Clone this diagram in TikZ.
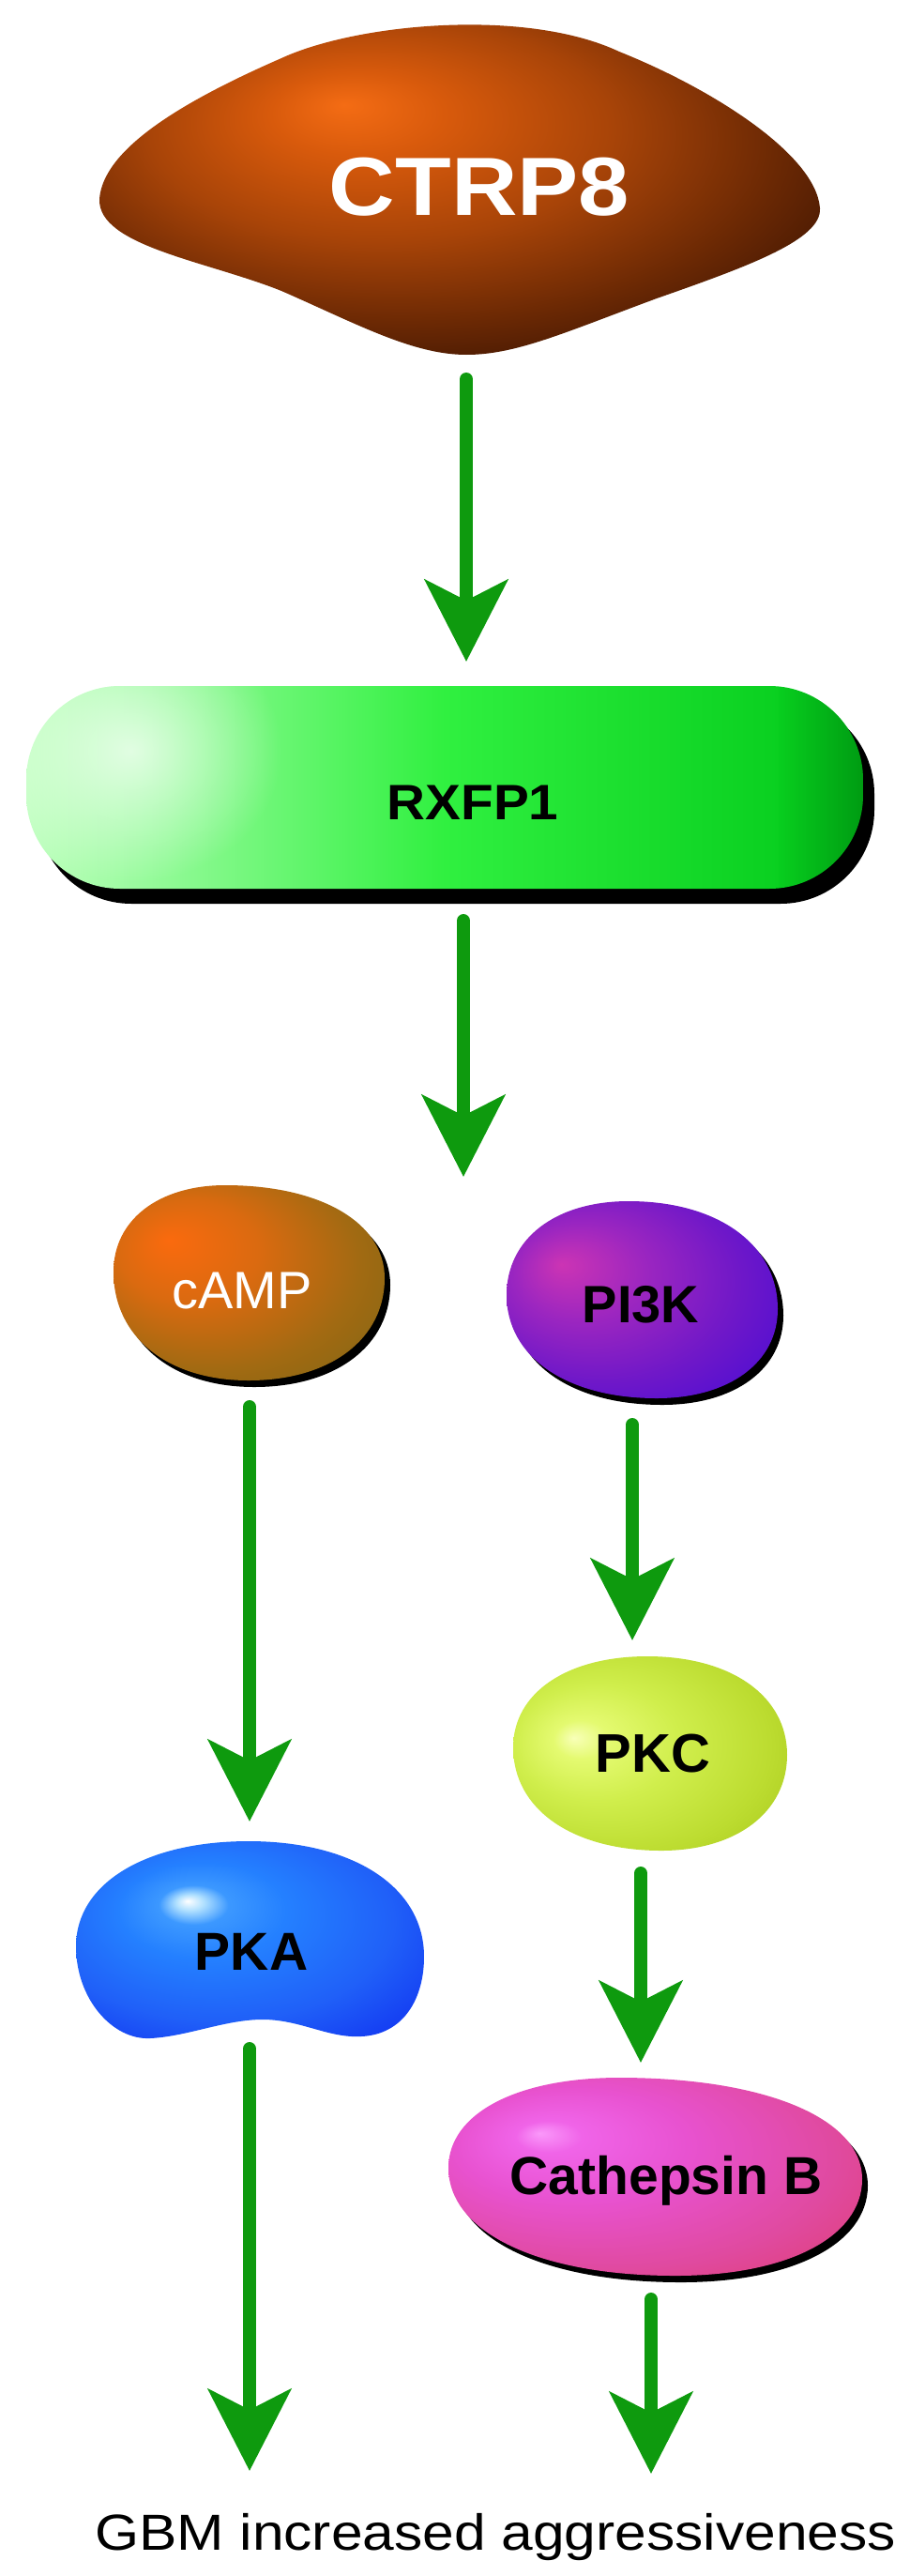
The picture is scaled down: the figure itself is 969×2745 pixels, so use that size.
\documentclass[tikz,border=0pt]{standalone}
\usepackage{fontspec}
\setmainfont{Liberation Sans}
\usetikzlibrary{arrows.meta,fadings}

\tikzfading[name=glowfade, inner color=transparent!0, outer color=transparent!100]

\definecolor{arrg}{RGB}{14,154,14}
% CTRP8
\definecolor{ct0}{HTML}{F46C14}
\definecolor{ct1}{HTML}{D85A0C}
\definecolor{ct2}{HTML}{A84408}
\definecolor{ct3}{HTML}{6A2804}
\definecolor{ct4}{HTML}{2E0E02}
\definecolor{ct5}{HTML}{1A0600}
% cAMP
\definecolor{ca0}{HTML}{FA6A0E}
\definecolor{ca1}{HTML}{DA6A10}
\definecolor{ca2}{HTML}{A26A12}
\definecolor{ca3}{HTML}{806614}
\definecolor{ca4}{HTML}{6A5A10}
% PI3K
\definecolor{pi0}{HTML}{CC34B4}
\definecolor{pi1}{HTML}{9C26C0}
\definecolor{pi2}{HTML}{7018C8}
\definecolor{pi3}{HTML}{4A0CD4}
\definecolor{pi4}{HTML}{3A08D8}
% PKC
\definecolor{pc0}{HTML}{F8FFB8}
\definecolor{pc1}{HTML}{E4FA70}
\definecolor{pc2}{HTML}{D0EE4C}
\definecolor{pc3}{HTML}{BCDC30}
\definecolor{pc4}{HTML}{A4C418}
\definecolor{pc5}{HTML}{90B010}
% PKA
\definecolor{pa0}{HTML}{FFFFFF}
\definecolor{pa1}{HTML}{B0E0FF}
\definecolor{pa2}{HTML}{3C98FF}
\definecolor{pa3}{HTML}{2480FF}
\definecolor{pa4}{HTML}{2060F8}
\definecolor{pa5}{HTML}{1030F0}
\definecolor{pa6}{HTML}{0000E0}
% Cathepsin B
\definecolor{cb0}{HTML}{FA98FA}
\definecolor{cb1}{HTML}{F064E8}
\definecolor{cb2}{HTML}{E852D0}
\definecolor{cb3}{HTML}{E04AA0}
\definecolor{cb4}{HTML}{E03C70}
\definecolor{cb5}{HTML}{D83058}
% RXFP1
\definecolor{rx0}{HTML}{C0FFC0}
\definecolor{rx1}{HTML}{30F040}
\definecolor{rx2}{HTML}{00C818}

\pgfdeclareradialshading{shctrp}{\pgfpoint{-8bp}{11bp}}{color(0bp)=(ct0); color(6bp)=(ct1); color(16bp)=(ct2); color(26bp)=(ct3); color(36bp)=(ct4); color(50bp)=(ct5)}
\pgfdeclareradialshading{shcamp}{\pgfpoint{-15bp}{11bp}}{color(0bp)=(ca0); color(13bp)=(ca1); color(27bp)=(ca2); color(39bp)=(ca3); color(50bp)=(ca4)}
\pgfdeclareradialshading{shpi}{\pgfpoint{-15bp}{9bp}}{color(0bp)=(pi0); color(12bp)=(pi1); color(25bp)=(pi2); color(38bp)=(pi3); color(50bp)=(pi4)}
\pgfdeclareradialshading{shpkc}{\pgfpoint{-14bp}{4bp}}{color(0bp)=(pc0); color(5bp)=(pc1); color(15bp)=(pc2); color(28bp)=(pc3); color(40bp)=(pc4); color(50bp)=(pc5)}
\pgfdeclareradialshading{shpka}{\pgfpoint{-9bp}{10bp}}{color(0bp)=(pa0); color(2bp)=(pa1); color(5bp)=(pa2); color(12bp)=(pa3); color(25bp)=(pa4); color(38bp)=(pa5); color(50bp)=(pa6)}
\pgfdeclareradialshading{shcb}{\pgfpoint{-14bp}{11bp}}{color(0bp)=(cb0); color(4bp)=(cb1); color(14bp)=(cb2); color(28bp)=(cb3); color(40bp)=(cb4); color(50bp)=(cb5)}

\tikzset{
  arr/.style={draw=arrg, line width=14pt, line cap=round, -{Stealth[length=87pt, width=88pt, inset=22pt]}},
  lbl/.style={anchor=base, inner sep=0pt, font=\bfseries\fontsize{57}{60}\selectfont},
  shadowshift/.style={shift={(6,7)}},
}

\begin{document}
\begin{tikzpicture}[x=1pt, y=-1pt]
\useasboundingbox (0,0) rectangle (969,2745);

% ---- CTRP8 ----
\shade[shading=shctrp] (106,212) .. controls (110,160) and (190,110) .. (300,62)
  .. controls (380,25) and (560,8) .. (660,55)
  .. controls (760,95) and (870,165) .. (874,222)
  .. controls (876,255) and (800,283) .. (700,318)
  .. controls (600,355) and (550,378) .. (497,378)
  .. controls (440,378) and (380,345) .. (300,310)
  .. controls (220,278) and (104,262) .. (106,212) -- cycle;
\node[lbl, text=white, font=\bfseries\fontsize{88}{92}\selectfont] (ctrp8) at (511,230) {\scalebox{1.11}[1]{CTRP8}};

% ---- RXFP1 ----
\fill[black, rounded corners=100pt] (40,746) rectangle (932,963);
\begin{scope}
  \clip[rounded corners=100pt] (28,731) rectangle (920,947);
  \shade[left color=rx0, right color=rx2, middle color=rx1] (28,731) rectangle (920,947);
  \fill[white, path fading=glowfade, opacity=0.7] (140,800) ellipse (160pt and 140pt);
  \shade[left color=rx2, right color=black, opacity=0.22] (830,731) rectangle (920,947);
\end{scope}
\node[lbl, font=\bfseries\fontsize{53}{56}\selectfont] (rxfp1) at (504,873) {\scalebox{1.07}[1]{RXFP1}};

% ---- cAMP ----
\begin{scope}[shadowshift]
\fill[black] (410,1362) .. controls (410,1303) and (342,1263) .. (240,1263)
  .. controls (169,1263) and (121,1300) .. (121,1355)
  .. controls (121,1425) and (179,1471) .. (265,1471)
  .. controls (352,1471) and (410,1427) .. (410,1362) -- cycle;
\end{scope}
\shade[shading=shcamp] (410,1362) .. controls (410,1303) and (342,1263) .. (240,1263)
  .. controls (169,1263) and (121,1300) .. (121,1355)
  .. controls (121,1425) and (179,1471) .. (265,1471)
  .. controls (352,1471) and (410,1427) .. (410,1362) -- cycle;
\node[lbl, text=white, font=\fontsize{56}{60}\selectfont] (camp) at (258,1394) {cAMP};

% ---- PI3K ----
\begin{scope}[shadowshift]
\fill[black] (829,1395) .. controls (829,1326) and (765,1280) .. (670,1280)
  .. controls (592,1280) and (540,1320) .. (540,1380)
  .. controls (540,1446) and (604,1490) .. (700,1490)
  .. controls (777,1490) and (829,1452) .. (829,1395) -- cycle;
\end{scope}
\shade[shading=shpi] (829,1395) .. controls (829,1326) and (765,1280) .. (670,1280)
  .. controls (592,1280) and (540,1320) .. (540,1380)
  .. controls (540,1446) and (604,1490) .. (700,1490)
  .. controls (777,1490) and (829,1452) .. (829,1395) -- cycle;
\node[lbl, font=\bfseries\fontsize{56}{60}\selectfont] (pi3k) at (683,1409) {PI3K};

% ---- PKC ----
\shade[shading=shpkc] (839,1870) .. controls (839,1807) and (779,1765) .. (690,1765)
  .. controls (604,1765) and (547,1804) .. (547,1862)
  .. controls (547,1928) and (610,1972) .. (705,1972)
  .. controls (785,1972) and (839,1931) .. (839,1870) -- cycle;
\node[lbl, font=\bfseries\fontsize{58}{60}\selectfont] (pkc) at (696,1888) {PKC};

% ---- PKA ----
\shade[shading=shpka] (452,2085) .. controls (452,2011) and (377,1962) .. (265,1962)
  .. controls (155,1962) and (81,2007) .. (81,2074)
  .. controls (81,2130) and (120,2174) .. (160,2172)
  .. controls (200,2170) and (240,2152) .. (280,2152)
  .. controls (320,2152) and (350,2172) .. (385,2170)
  .. controls (430,2168) and (452,2130) .. (452,2085) -- cycle;
\node[lbl] (pka) at (268,2099) {PKA};

% ---- Cathepsin B ----
\begin{scope}[shadowshift]
\fill[black] (919,2322) .. controls (919,2257) and (815,2214) .. (660,2214)
  .. controls (551,2214) and (478,2252) .. (478,2310)
  .. controls (478,2379) and (575,2425) .. (720,2425)
  .. controls (839,2425) and (919,2384) .. (919,2322) -- cycle;
\end{scope}
\shade[shading=shcb] (919,2322) .. controls (919,2257) and (815,2214) .. (660,2214)
  .. controls (551,2214) and (478,2252) .. (478,2310)
  .. controls (478,2379) and (575,2425) .. (720,2425)
  .. controls (839,2425) and (919,2384) .. (919,2322) -- cycle;
\node[lbl] (cathb) at (710,2338) {Cathepsin B};

% ---- outcome ----
\node[anchor=base, inner sep=0pt, font=\fontsize{54}{58}\selectfont] (gbm) at (528,2717) {\scalebox{1.12}[1]{GBM increased aggressiveness}};

% ---- arrow end points ----
\coordinate (a1s) at (497,404);  \coordinate (a1e) at (497,705);
\coordinate (a2s) at (494,981);  \coordinate (a2e) at (494,1254);
\coordinate (a3s) at (266,1499); \coordinate (a3e) at (266,1941);
\coordinate (a4s) at (674,1518); \coordinate (a4e) at (674,1748);
\coordinate (a5s) at (266,2183); \coordinate (a5e) at (266,2633);
\coordinate (a6s) at (683,1996); \coordinate (a6e) at (683,2198);
\coordinate (a7s) at (694,2450); \coordinate (a7e) at (694,2636);

\draw[arr] (a1s) -- (a1e);
\draw[arr] (a2s) -- (a2e);
\draw[arr] (a3s) -- (a3e);
\draw[arr] (a4s) -- (a4e);
\draw[arr] (a5s) -- (a5e);
\draw[arr] (a6s) -- (a6e);
\draw[arr] (a7s) -- (a7e);
\end{tikzpicture}
\end{document}
